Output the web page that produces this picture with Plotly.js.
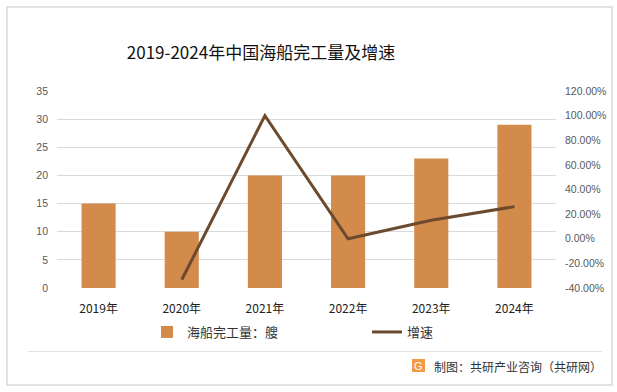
<!DOCTYPE html>
<html>
<head>
<meta charset="utf-8">
<script src="https://cdn.plot.ly/plotly-3.0.1.min.js"></script>
<style>
html,body{margin:0;padding:0;background:#fff;}
#chart{width:617px;height:392px;}
</style>
</head>
<body>
<div id="chart"></div>
<script>
// ---- data ----
const years = ["2019年", "2020年", "2021年", "2022年", "2023年", "2024年"];
const completions = [15, 10, 20, 20, 23, 29];          // 海船完工量：艘
const growthYears = ["2020年", "2021年", "2022年", "2023年", "2024年"];
const growthRate = [-33.33, 100.0, 0.0, 15.0, 26.09];   // 增速 (%)
const leftTicks = [0, 5, 10, 15, 20, 25, 30, 35];
const rightTicks = [-40, -20, 0, 20, 40, 60, 80, 100, 120];
const rightTickText = rightTicks.map(v => v.toFixed(2) + "%");

const titleText = "2019-2024年中国海船完工量及增速";
const barName = "海船完工量：艘";
const lineName = "增速";
const sourceText = "制图：共研产业咨询（共研网）";

const cjk = '"Noto Sans CJK SC", "Noto Sans", sans-serif';

// plot area in pixels: left 57, right 556, top 91, bottom 288
const L = 57, R = 556, T = 91, B = 288, W = 617, H = 392;
const px2x = p => (p - L) / (R - L);
const px2y = p => (B - p) / (B - T);

const traces = [
  {
    type: "bar",
    name: barName,
    x: years,
    y: completions,
    marker: {color: "#D38B4C"},
    yaxis: "y",
    legend: "legend",
    hoverinfo: "x+y"
  },
  {
    type: "scatter",
    mode: "lines",
    name: lineName,
    x: growthYears,
    y: growthRate,
    line: {color: "#6B4A2E", width: 3},
    yaxis: "y2",
    legend: "legend2",
    hoverinfo: "x+y"
  }
];

const legendBase = {
  orientation: "h",
  xanchor: "left",
  y: px2y(332), yanchor: "middle",
  font: {family: cjk, size: 13, color: "#333333"},
  itemwidth: 30,
  bgcolor: "rgba(0,0,0,0)"
};

const layout = {
  width: W, height: H,
  margin: {l: L, r: W - R, t: T, b: H - B, pad: 0},
  paper_bgcolor: "#ffffff",
  plot_bgcolor: "#ffffff",
  font: {family: cjk, color: "#404040"},
  title: {
    text: titleText,
    font: {family: cjk, size: 17, color: "#111111"},
    x: 261 / W, xanchor: "center", xref: "container",
    y: 1 - 53 / H, yanchor: "middle", yref: "container"
  },
  bargap: 0.59,
  showlegend: true,
  legend: Object.assign({}, legendBase, {x: px2x(147)}),
  legend2: Object.assign({}, legendBase, {x: px2x(367)}),
  xaxis: {
    type: "category",
    showgrid: false, zeroline: false, showline: false,
    ticks: "",
    ticklabelstandoff: 12,
    tickfont: {family: cjk, size: 12, color: "#222222"},
    fixedrange: true
  },
  yaxis: {
    range: [0, 35],
    tickvals: leftTicks,
    showgrid: true, gridcolor: "#D9D9D9", gridwidth: 1,
    zeroline: false, showline: false, ticks: "",
    ticklabelstandoff: 8,
    tickfont: {family: '"Liberation Sans", sans-serif', size: 10.5, color: "#595959"},
    fixedrange: true
  },
  yaxis2: {
    overlaying: "y", side: "right",
    range: [-40, 120],
    tickmode: "array",
    tickvals: rightTicks,
    ticktext: rightTickText,
    showgrid: false, zeroline: false, showline: false, ticks: "",
    ticklabelstandoff: 8,
    tickfont: {family: '"Liberation Sans", sans-serif', size: 10.5, color: "#595959"},
    fixedrange: true
  },
  shapes: [
    {type: "rect", xref: "paper", yref: "paper",
     x0: px2x(7), x1: px2x(612), y0: px2y(385), y1: px2y(7),
     line: {color: "#D9D9D9", width: 1.5}, fillcolor: "rgba(0,0,0,0)", layer: "below"},
    {type: "line", xref: "paper", yref: "paper",
     x0: px2x(28), x1: px2x(602), y0: px2y(351.5), y1: px2y(351.5),
     line: {color: "#E3E3E3", width: 1}},
    {type: "rect", xref: "paper", yref: "paper",
     x0: px2x(412), x1: px2x(425), y0: px2y(372), y1: px2y(359),
     line: {width: 0}, fillcolor: "#F39A45"}
  ],
  annotations: [
    {text: "G", xref: "paper", yref: "paper", x: px2x(418.5), y: px2y(365.5),
     xanchor: "center", yanchor: "middle", showarrow: false,
     font: {family: '"Liberation Sans", sans-serif', size: 11, color: "#ffffff"}},
    {text: sourceText, xref: "paper", yref: "paper", x: px2x(432), y: px2y(366),
     xanchor: "left", yanchor: "middle", showarrow: false,
     font: {family: cjk, size: 12, color: "#333333"}}
  ]
};

Plotly.newPlot("chart", traces, layout, {displayModeBar: false, staticPlot: true});
</script>
</body>
</html>
